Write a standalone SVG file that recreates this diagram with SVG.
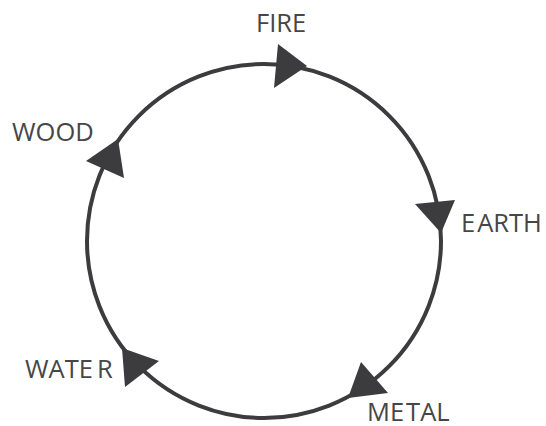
<svg xmlns="http://www.w3.org/2000/svg" width="546" height="426" viewBox="0 0 546 426">
  <style>
    .lbl { font-family: "Open Sans", "Liberation Sans", sans-serif; font-size: 25.5px; fill: #464648; }
    .ring { fill: none; stroke: #3c3c3e; stroke-width: 4; }
    .head { fill: #3c3c3e; stroke: none; }
  </style>
  <rect width="546" height="426" fill="#ffffff"/>
  <g id="connectors">
    <circle class="ring" cx="264" cy="241" r="177"/>
    <polygon class="head" points="278,44 307,66 274,88"/>
    <polygon class="head" points="415,204 455,200 441,233"/>
    <polygon class="head" points="361,362 388,393 348,398"/>
    <polygon class="head" points="122,348 159,361 125,387"/>
    <polygon class="head" points="86,161 118,139 124,178"/>
  </g>
  <g id="fire"><text class="lbl" x="256" y="32">FIRE</text></g>
  <g id="earth"><text class="lbl" x="461" y="232">E<tspan dx="2">ARTH</tspan></text></g>
  <g id="metal"><text class="lbl" x="367" y="421">ME<tspan dx="2">TAL</tspan></text></g>
  <g id="water"><text class="lbl" x="25" y="378">WATE<tspan dx="4">R</tspan></text></g>
  <g id="wood"><text class="lbl" x="12" y="141">WOOD</text></g>
</svg>
